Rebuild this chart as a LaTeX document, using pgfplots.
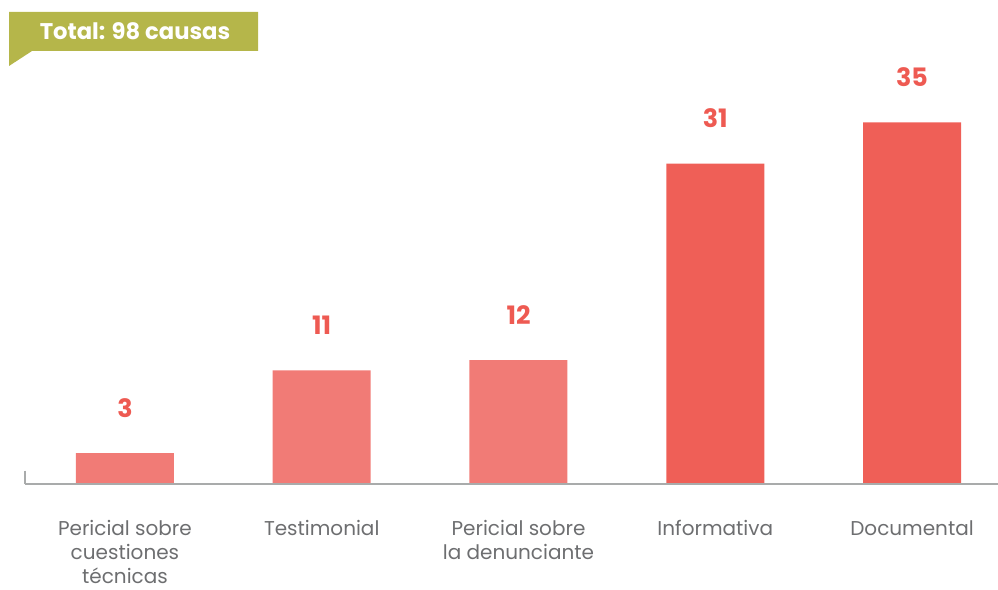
\documentclass[border=0pt]{standalone}
\usepackage{pgfplots}
\pgfplotsset{compat=1.18}
\usepackage{fontspec}
\setmainfont{Poppins}
\definecolor{barlight}{HTML}{F17B76}
\definecolor{bardark}{HTML}{EF5F57}
\definecolor{lblred}{HTML}{EE5A52}
\definecolor{txtgray}{HTML}{6D6E70}
\definecolor{axgray}{HTML}{A9ABAB}
\definecolor{olive}{HTML}{B5B64A}
\begin{document}
\begin{tikzpicture}
\useasboundingbox (0,0) rectangle (748.5pt,441.75pt);
\begin{axis}[
  at={(18.75pt,78.75pt)}, anchor=south west,
  scale only axis, width=729.75pt, height=363pt,
  xmin=-0.508, xmax=4.437, ymin=0, ymax=46.85,
  axis line style={draw=none}, tick style={draw=none},
  ytick=\empty, xtick={0,1,2,3,4},
  xticklabels={{Pericial sobre\\cuestiones\\técnicas},{Testimonial},{Pericial sobre\\la denunciante},{Informativa},{Documental}},
  xticklabel style={anchor=north, yshift=-22pt, align=center, text=txtgray, inner sep=1pt, font=\fontsize{15}{18}\selectfont},
  /pgf/number format/assume math mode=true,
  ybar, bar width=73.5pt, bar shift=0pt,
  nodes near coords,
  every node near coord/.append style={anchor=center, yshift=34pt, text=lblred, font=\bfseries\fontsize{19}{22}\selectfont},
  clip=false,
]
\addplot[fill=barlight, draw=none] coordinates {(0,3) (1,11) (2,12)};
\addplot[fill=bardark, draw=none] coordinates {(3,31) (4,35)};
\draw[axgray, line width=2.2pt] (axis cs:-0.508,0) -- (axis cs:4.437,0);
\draw[axgray, line width=2.2pt] (axis cs:-0.508,1.3) -- (axis cs:-0.508,0);
\end{axis}
\fill[olive] (6.75pt,432.75pt) -- (193.5pt,432.75pt) -- (193.5pt,403.5pt) -- (24pt,403.5pt) -- (6.75pt,392.25pt) -- cycle;
\node[text=white, font=\bfseries\fontsize{17}{19}\selectfont] at (101.25pt,418.5pt) {Total: 98 causas};
\end{tikzpicture}
\end{document}
